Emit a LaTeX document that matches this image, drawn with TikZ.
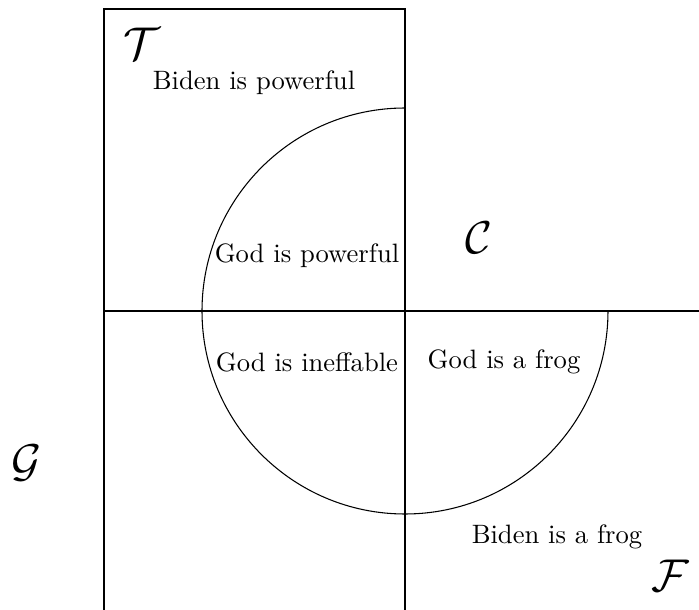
\documentclass[tikz,border=0pt]{standalone}
\begin{document}
\begin{tikzpicture}[x=0.376pt,y=0.376pt,
  lbl/.style={inner sep=0pt, font=\normalsize},
  cal/.style={inner sep=0pt, font=\LARGE}]
\useasboundingbox (0,0) rectangle (699,610);
\draw (104,0) -- (104,601) -- (405,601) -- (405,0);
\draw (104,299) -- (699,299);
\draw (405,502) arc[start angle=90, end angle=360, radius=203];
\node[cal] (T) at (142,566) {$\mathcal{T}$};
\node[lbl] (bp) at (254,527) {Biden is powerful};
\node[cal] (C) at (479,372) {$\mathcal{C}$};
\node[lbl] (gp) at (307,354) {God is powerful};
\node[lbl] (gi) at (307,248) {God is ineffable};
\node[lbl] (gf) at (504,248) {God is a frog};
\node[cal] (G) at (27,147) {$\mathcal{G}$};
\node[lbl] (bf) at (557,73) {Biden is a frog};
\node[cal] (F) at (670,34) {$\mathcal{F}$};
\end{tikzpicture}
\end{document}
